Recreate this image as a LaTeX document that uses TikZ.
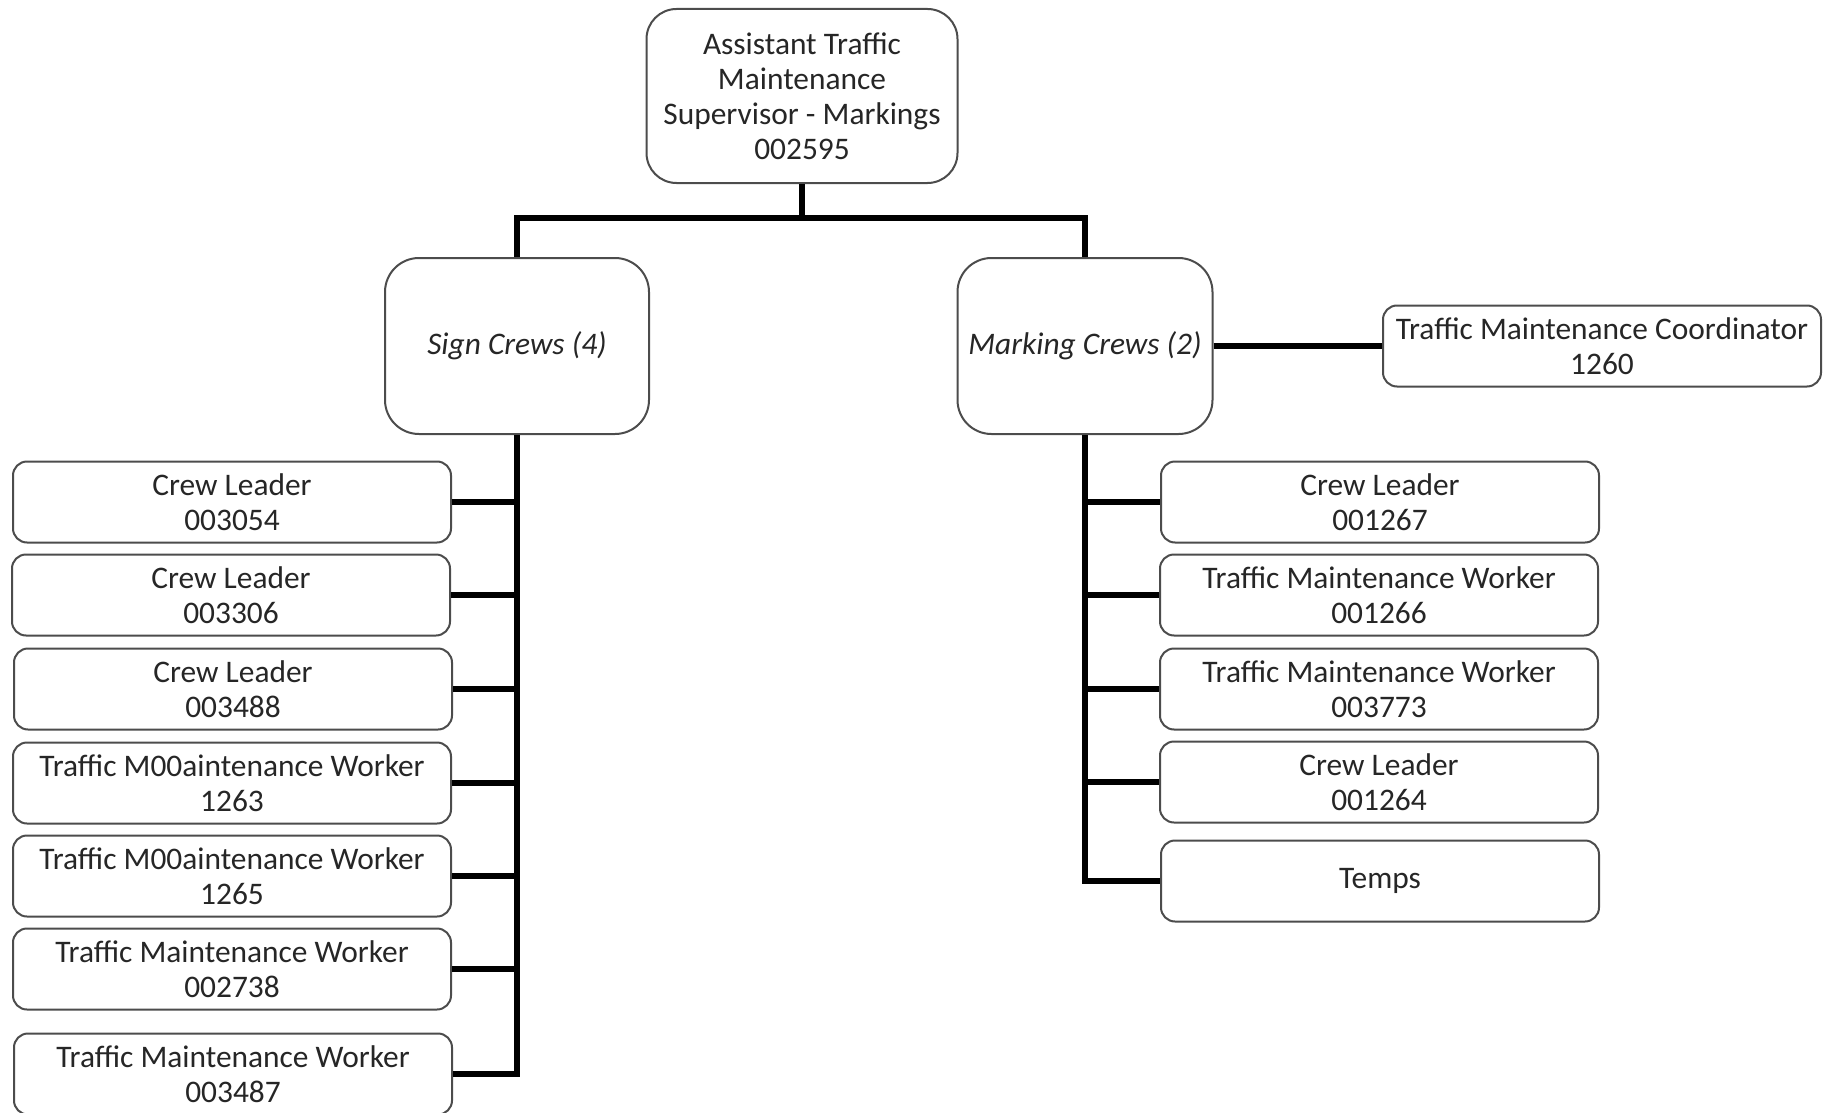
\documentclass[tikz,border=0pt]{standalone}
\usepackage{fontspec}
\setmainfont{Carlito}
\colorlet{BoxBorder}{black!70}
\colorlet{BoxText}{black!85}
\usetikzlibrary{calc}
\tikzset{
    org box/.style={draw=BoxBorder, line width=2pt, rounded corners=14pt,
        fill=white, text=BoxText, align=center, inner sep=0pt,
        font=\fontsize{31.4}{35}\selectfont},
    top box/.style={org box, rounded corners=30pt,
        minimum width=311pt, minimum height=174pt},
    crew box/.style={org box, rounded corners=34pt, minimum height=176pt,
        font=\fontsize{31.4}{35}\selectfont\itshape},
    job box/.style={org box, minimum width=438pt, minimum height=81pt},
    org line/.style={line width=6pt}
}

\begin{document}
\begin{tikzpicture}[x=1pt, y=-1pt]

\useasboundingbox (0,0) rectangle (1829,1113);

% Jefatura y cuadrillas
\node[top box] (sup) at (802,96) {Assistant Traffic\\Maintenance\\Supervisor - Markings\\002595};
\node[crew box, minimum width=264pt] (sign) at (517,346) {Sign Crews (4)};
\node[crew box, minimum width=255pt] (mark) at (1085,346) {Marking Crews (2)};
\node[job box] (coord) at (1602,346) {Traffic Maintenance Coordinator\\1260};

% Puestos de Sign Crews
\node[job box] (s1) at (232,502) {Crew Leader\\003054};
\node[job box] (s2) at (231,595) {Crew Leader\\003306};
\node[job box] (s3) at (233,689) {Crew Leader\\003488};
\node[job box] (s4) at (232,783) {Traffic M00aintenance Worker\\1263};
\node[job box] (s5) at (232,876) {Traffic M00aintenance Worker\\1265};
\node[job box] (s6) at (232,969) {Traffic Maintenance Worker\\002738};
\node[job box] (s7) at (233,1074) {Traffic Maintenance Worker\\003487};

% Puestos de Marking Crews
\node[job box] (m1) at (1380,502) {Crew Leader\\001267};
\node[job box] (m2) at (1379,595) {Traffic Maintenance Worker\\001266};
\node[job box] (m3) at (1379,689) {Traffic Maintenance Worker\\003773};
\node[job box] (m4) at (1379,782) {Crew Leader\\001264};
\node[job box] (m5) at (1380,881) {Temps};

\coordinate (split) at (802,218);

% Dibujamos las lineas
\draw[org line] (sup.south) -- (split);
\draw[org line] (sign.north) |- (split) -| (mark.north);
\draw[org line] (mark.east) -- (coord.west);

\draw[org line] (sign.south) |- (s7.east);
\foreach \i in {1,...,6}
    \draw[org line] (sign.south |- s\i.east) -- (s\i.east);

\draw[org line] (mark.south) |- (m5.west);
\foreach \i in {1,...,4}
    \draw[org line] (mark.south |- m\i.west) -- (m\i.west);

\end{tikzpicture}
\end{document}
